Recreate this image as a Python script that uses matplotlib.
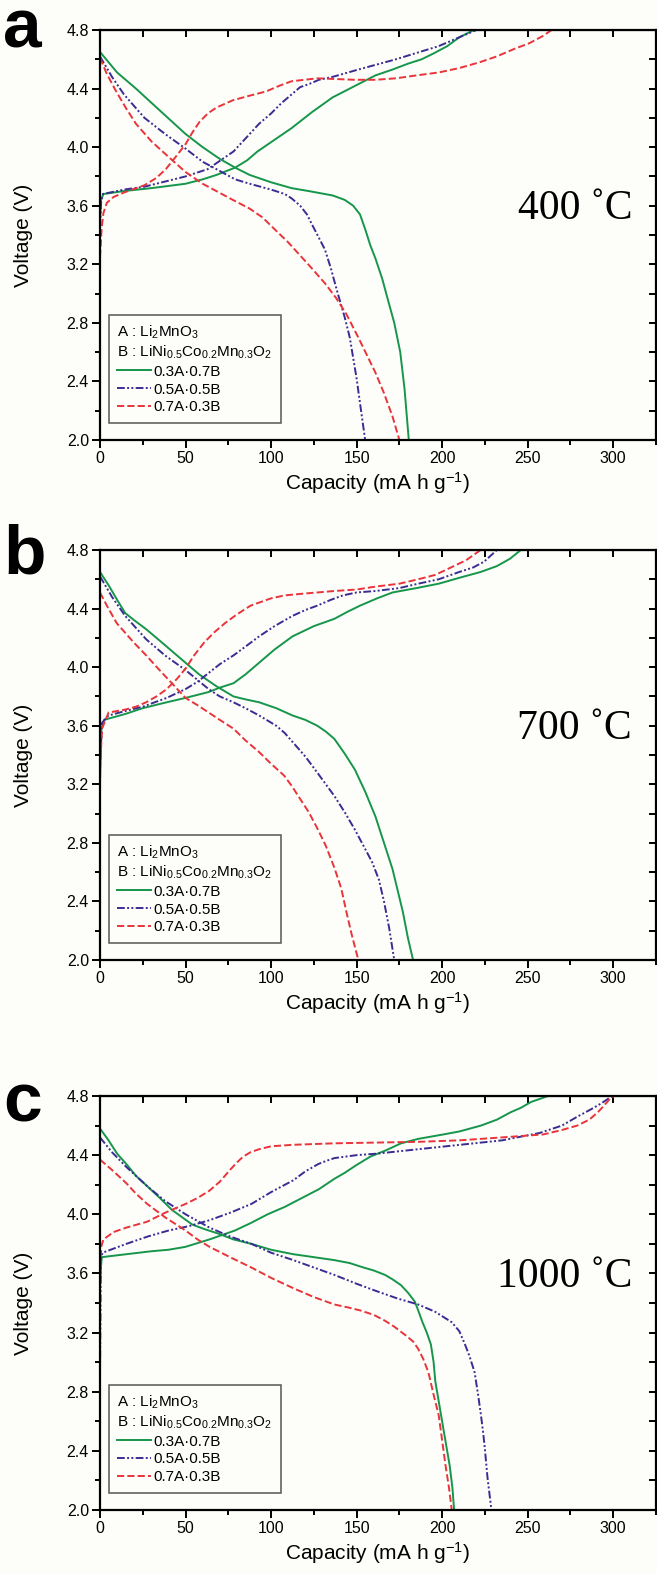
import numpy as np
import matplotlib
matplotlib.use('Agg')
import matplotlib.pyplot as plt
from matplotlib.ticker import MultipleLocator, FormatStrFormatter

plt.rcParams['font.family'] = ['Liberation Sans', 'DejaVu Sans']
plt.rcParams['mathtext.default'] = 'regular'

temps = ['400 ˚C', '700 ˚C', '1000 ˚C']
panel_tags = ['a', 'b', 'c']
labels = ['0.3A·0.7B', '0.5A·0.5B', '0.7A·0.3B']
title_a = 'A : Li$_2$MnO$_3$'
title_b = 'B : LiNi$_{0.5}$Co$_{0.2}$Mn$_{0.3}$O$_2$'

# (capacity, voltage) pairs
# panel a, 400 C
a_03_chg = [(0, 3.50), (0.6, 3.64), (2, 3.68), (14, 3.70), (30, 3.72), (50, 3.75), (60, 3.78), (68, 3.81),
            (79, 3.86), (86, 3.91), (92, 3.97), (102, 4.05), (112, 4.13), (124, 4.24), (136, 4.34),
            (151, 4.43), (161, 4.49), (171, 4.53), (180, 4.57), (188, 4.60), (195, 4.64), (203, 4.69),
            (210, 4.75), (218.5, 4.80)]
a_03_dis = [(0, 4.65), (5, 4.58), (10, 4.51), (21, 4.40), (35, 4.25), (50, 4.09), (60, 4.00), (70, 3.92),
            (79, 3.86), (87.5, 3.81), (100, 3.76), (112, 3.72), (122, 3.70), (136, 3.67), (143, 3.64),
            (148, 3.60), (152, 3.54), (155, 3.44), (158, 3.33), (161, 3.24), (165, 3.10), (168, 2.97),
            (172, 2.80), (175.5, 2.60), (178, 2.35), (180.5, 2.00)]
a_05_chg = [(0, 3.45), (0.6, 3.62), (1.7, 3.68), (14, 3.71), (26, 3.73), (50, 3.80), (63, 3.85), (78, 3.97),
            (87.5, 4.09), (93, 4.16), (100, 4.23), (106, 4.30), (112, 4.36), (117, 4.41), (122, 4.43),
            (128, 4.46), (136, 4.48), (151, 4.53), (173, 4.60), (198, 4.69), (210, 4.75), (220, 4.80)]
a_05_dis = [(0, 4.62), (7, 4.48), (14, 4.36), (26, 4.20), (38, 4.09), (50, 3.99), (60, 3.90), (68, 3.85),
            (79, 3.78), (87.5, 3.75), (100, 3.71), (108, 3.68), (112, 3.65), (117, 3.60), (121, 3.54),
            (124, 3.47), (128, 3.38), (131.5, 3.30), (135, 3.17), (139, 3.00), (143, 2.84), (146, 2.70),
            (150, 2.42), (152, 2.25), (155, 2.00)]
a_07_chg = [(0, 3.25), (1, 3.45), (2, 3.55), (4, 3.62), (8, 3.66), (14, 3.69), (26, 3.74), (33, 3.79),
            (38.5, 3.85), (44, 3.93), (50, 4.02), (54, 4.10), (58, 4.17), (63, 4.23), (68, 4.27),
            (77.6, 4.32), (87, 4.35), (97, 4.38), (105, 4.42), (112, 4.45), (127, 4.47), (149, 4.46),
            (161, 4.46), (173, 4.47), (185, 4.49), (198, 4.51), (210, 4.54), (222, 4.58), (232, 4.62),
            (242, 4.67), (251, 4.71), (259, 4.76), (264, 4.80)]
a_07_dis = [(0, 4.61), (4, 4.50), (9, 4.39), (15, 4.27), (21, 4.16), (30, 4.04), (38.5, 3.95), (50, 3.83),
            (60, 3.75), (68, 3.70), (77.6, 3.64), (87.5, 3.58), (95, 3.52), (102, 3.44), (110, 3.35),
            (117, 3.26), (124, 3.17), (131.5, 3.07), (138, 2.97), (144, 2.86), (151, 2.70), (156, 2.58),
            (161, 2.46), (166, 2.32), (171, 2.16), (175, 2.00)]

# panel b, 700 C
b_03_chg = [(0, 3.21), (0.8, 3.58), (2.4, 3.64), (14.7, 3.68), (25, 3.72), (39, 3.76), (50, 3.79),
            (63.5, 3.83), (70, 3.86), (78, 3.89), (85, 3.95), (93, 4.03), (102, 4.12), (112.5, 4.21),
            (125, 4.28), (137, 4.33), (145, 4.38), (152, 4.42), (162, 4.47), (171, 4.51), (185, 4.54),
            (198, 4.57), (210, 4.61), (222.5, 4.65), (232, 4.69), (239.6, 4.74), (246, 4.80)]
b_03_dis = [(0, 4.65), (5, 4.56), (10, 4.46), (14.7, 4.37), (20, 4.32), (26.9, 4.26), (35, 4.18), (50, 4.03),
            (58, 3.95), (68, 3.87), (78, 3.80), (85, 3.78), (93, 3.76), (103, 3.72), (112.5, 3.67),
            (120, 3.64), (127, 3.60), (132, 3.56), (137, 3.51), (143, 3.41), (149, 3.30), (155, 3.15),
            (161, 2.98), (166, 2.80), (171, 2.62), (177, 2.33), (180, 2.15), (183, 2.00)]
b_05_chg = [(0, 3.35), (1.2, 3.62), (5, 3.67), (14.7, 3.70), (25, 3.73), (39, 3.79), (50, 3.85), (57, 3.90),
            (63.5, 3.96), (70, 4.02), (78, 4.08), (85, 4.14), (93, 4.21), (102, 4.28), (112.5, 4.35),
            (120, 4.39), (127, 4.42), (135, 4.46), (142, 4.49), (150, 4.51), (161, 4.52), (175, 4.54),
            (186, 4.57), (198, 4.60), (210, 4.65), (218, 4.68), (224.5, 4.72), (232, 4.80)]
b_05_dis = [(0, 4.62), (7, 4.48), (14.7, 4.35), (27, 4.19), (38, 4.08), (50, 3.98), (63.5, 3.85), (70, 3.80),
            (78, 3.76), (85, 3.72), (93, 3.67), (103, 3.60), (108, 3.55), (112.5, 3.49), (120, 3.39),
            (127, 3.28), (132, 3.20), (137, 3.12), (143, 3.01), (149, 2.89), (154, 2.78), (159, 2.67),
            (163, 2.55), (166, 2.40), (169, 2.22), (172, 2.00)]
b_07_chg = [(0, 3.30), (1.2, 3.58), (5, 3.69), (14.7, 3.71), (21, 3.73), (27, 3.76), (33, 3.80), (39, 3.85),
            (45, 3.92), (50, 3.99), (55, 4.08), (61, 4.17), (67, 4.24), (73, 4.30), (80, 4.36), (88, 4.42),
            (100, 4.47), (108, 4.49), (117, 4.50), (137, 4.52), (150, 4.53), (161, 4.55), (175, 4.57),
            (186, 4.60), (196, 4.63), (205, 4.68), (214, 4.73), (222.5, 4.80)]
b_07_dis = [(0, 4.51), (4, 4.42), (9.8, 4.30), (19.6, 4.17), (27, 4.08), (34, 3.99), (42, 3.89), (50, 3.79),
            (57, 3.74), (63.5, 3.69), (70, 3.64), (78, 3.58), (85, 3.50), (93, 3.42), (100, 3.34),
            (107.6, 3.26), (112, 3.19), (117, 3.10), (122, 3.01), (127, 2.90), (132, 2.78), (137, 2.63),
            (141, 2.49), (144, 2.33), (147, 2.18), (151, 2.00)]

# panel c, 1000 C
c_03_chg = [(0, 3.55), (1, 3.71), (15.4, 3.73), (30, 3.75), (40, 3.76), (50, 3.78), (64, 3.83), (78.8, 3.89),
            (88, 3.94), (98, 4.00), (108, 4.05), (118, 4.11), (128, 4.17), (137, 4.24), (143, 4.28),
            (149.5, 4.33), (158, 4.39), (166.6, 4.43), (176, 4.48), (186, 4.51), (200.7, 4.54), (210, 4.56),
            (222.7, 4.60), (232, 4.64), (240, 4.69), (246, 4.72), (252, 4.76), (257, 4.78), (262, 4.80)]
c_03_dis = [(0, 4.58), (5, 4.50), (10, 4.41), (15.4, 4.34), (21, 4.26), (27.6, 4.19), (35, 4.11), (42, 4.03),
            (48, 3.98), (54, 3.93), (61, 3.90), (69, 3.87), (78, 3.83), (88.5, 3.80), (100, 3.76),
            (113, 3.73), (125, 3.71), (137, 3.69), (146, 3.67), (154, 3.64), (160, 3.62), (166.6, 3.59),
            (171, 3.56), (176, 3.52), (180, 3.47), (184, 3.41), (186, 3.35), (188.5, 3.27), (191, 3.20),
            (193.4, 3.12), (195, 3.00), (196, 2.87), (198.5, 2.70), (201, 2.53), (204.4, 2.30),
            (206, 2.15), (207, 2.00)]
c_05_chg = [(0, 2.90), (0.5, 3.70), (1.5, 3.74), (15.4, 3.80), (28, 3.85), (40, 3.89), (52, 3.92), (64, 3.96),
            (76, 4.01), (88.5, 4.07), (100, 4.15), (113, 4.23), (120, 4.29), (127.6, 4.34), (132, 4.36),
            (137, 4.38), (150, 4.40), (161.7, 4.41), (186, 4.44), (210.5, 4.47), (235, 4.50), (257, 4.55),
            (270, 4.60), (279, 4.66), (287, 4.71), (293, 4.75), (299.5, 4.80)]
c_05_dis = [(0, 4.52), (7, 4.42), (15.4, 4.32), (27.6, 4.19), (38, 4.09), (50, 4.00), (64, 3.91), (76, 3.85),
            (88.5, 3.80), (100, 3.74), (113, 3.69), (125, 3.64), (137, 3.59), (150, 3.53), (161.7, 3.48),
            (174, 3.43), (186, 3.39), (196, 3.34), (205.6, 3.27), (210, 3.21), (213, 3.13), (216, 3.04),
            (219, 2.93), (221, 2.78), (222.7, 2.64), (224, 2.52), (225, 2.41), (226.5, 2.22), (228.8, 2.00)]
c_07_chg = [(0, 3.50), (0.7, 3.78), (2, 3.83), (8, 3.88), (15.4, 3.91), (27.6, 3.95), (38, 4.01), (50, 4.07),
            (57, 4.11), (64, 4.16), (70, 4.22), (76, 4.30), (80, 4.35), (83.7, 4.39), (88, 4.42), (93, 4.44),
            (100, 4.46), (113, 4.47), (137, 4.48), (186, 4.49), (210, 4.50), (235, 4.52), (259, 4.54),
            (270, 4.57), (279, 4.60), (286, 4.64), (291, 4.69), (295, 4.74), (298, 4.78), (300.7, 4.80)]
c_07_dis = [(0, 4.37), (7, 4.30), (15.4, 4.21), (21, 4.14), (27.6, 4.07), (38, 3.98), (50, 3.89), (57, 3.83),
            (64, 3.78), (76, 3.71), (88.5, 3.64), (100, 3.57), (113, 3.50), (125, 3.44), (137, 3.39),
            (145, 3.37), (152, 3.35), (160, 3.32), (166.6, 3.28), (172, 3.24), (178.8, 3.18), (183, 3.14),
            (186, 3.09), (189, 3.02), (192, 2.93), (195, 2.78), (198, 2.64), (200, 2.47), (202, 2.30),
            (204, 2.15), (205.6, 2.00)]

panels = [
    [(a_03_chg, a_03_dis), (a_05_chg, a_05_dis), (a_07_chg, a_07_dis)],
    [(b_03_chg, b_03_dis), (b_05_chg, b_05_dis), (b_07_chg, b_07_dis)],
    [(c_03_chg, c_03_dis), (c_05_chg, c_05_dis), (c_07_chg, c_07_dis)],
]

colors = ['#15964a', '#3a2c93', '#e8343a']
styles = ['-', (0, (4, 1.2, 1, 1.2, 1, 1.2)), '--']

W, H = 657, 1574
fig = plt.figure(figsize=(W / 100., H / 100.), dpi=100)
fig.patch.set_facecolor('#fdfdf9')

# (top, bottom) of each panel in pixels, baseline offset of the panel letter
boxes = [(30, 440), (550, 960), (1096, 1510)]
tag_drop = [17, 24, 25]
left_px, right_px = 100, 656

for k, (tag, temp, curves) in enumerate(zip(panel_tags, temps, panels)):
    top, bot = boxes[k]
    ax = fig.add_axes([left_px / W, 1 - bot / H, (right_px - left_px) / W, (bot - top) / H])
    ax.set_facecolor('#fdfdf9')

    for (chg, dis), c, ls, lab in zip(curves, colors, styles, labels):
        x, y = np.array(chg).T
        ax.plot(x, y, color=c, ls=ls, lw=1.4, label=lab)
        x, y = np.array(dis).T
        ax.plot(x, y, color=c, ls=ls, lw=1.4)

    ax.set_xlim(0, 325)
    ax.set_ylim(2.0, 4.8)
    ax.xaxis.set_major_locator(MultipleLocator(50))
    ax.xaxis.set_minor_locator(MultipleLocator(25))
    ax.yaxis.set_major_locator(MultipleLocator(0.4))
    ax.yaxis.set_minor_locator(MultipleLocator(0.2))
    ax.yaxis.set_major_formatter(FormatStrFormatter('%.1f'))
    ax.tick_params(which='major', direction='out', length=6, width=1.4, labelsize=11.5, pad=2)
    ax.tick_params(which='minor', direction='out', length=3.5, width=1.4)
    for s in ax.spines.values():
        s.set_linewidth(1.6)

    # top / right ticks point inward
    sx = ax.secondary_xaxis('top')
    sx.xaxis.set_major_locator(MultipleLocator(25))
    sx.tick_params(direction='in', length=5, width=1.4, labeltop=False)
    sy = ax.secondary_yaxis('right')
    sy.yaxis.set_major_locator(MultipleLocator(0.2))
    sy.tick_params(direction='in', length=5, width=1.4, labelright=False)

    ax.set_xlabel('Capacity (mA h g$^{-1}$)', fontsize=15, labelpad=3)
    ax.set_ylabel('Voltage (V)', fontsize=15, labelpad=24)

    ax.text(311, 3.58, temp, ha='right', va='center', fontsize=30,
            family=['Liberation Serif', 'DejaVu Serif'])

    leg = ax.legend(title=title_a + '\n' + title_b, loc='lower left', bbox_to_anchor=(0.016, 0.042),
                    borderaxespad=0, fontsize=11, title_fontsize=11, alignment='left',
                    handlelength=2.2, handletextpad=0.15, labelspacing=0.25,
                    fancybox=False, framealpha=1, edgecolor='#555555', facecolor='#fdfdf9',
                    borderpad=0.55)
    leg.get_frame().set_linewidth(1.1)

    fig.text(3 / W, 1 - (top + tag_drop[k]) / H, tag, fontsize=50, weight='bold',
             ha='left', va='baseline')

fig.savefig('out.png', dpi=100, facecolor=fig.get_facecolor())
